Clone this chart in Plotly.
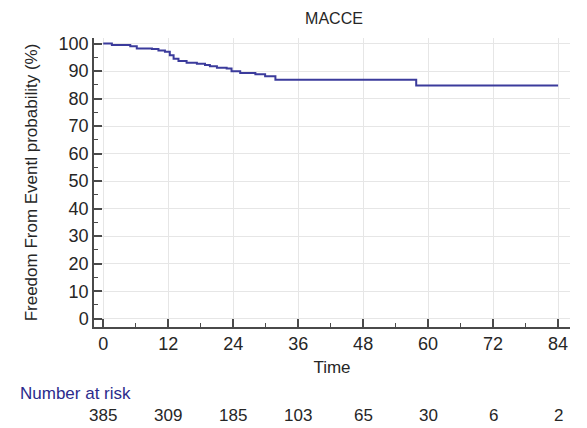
import plotly.graph_objects as go

# Kaplan-Meier step curve (months, % event-free)
times = [0, 1.6, 5.0, 6.2, 9.0, 10.2, 11.4, 12.3, 13.0, 13.9, 15.4, 17.3, 18.8, 19.7, 21.0,
         22.8, 23.7, 25.3, 28.1, 29.9, 31.8, 57.8, 84.0]
survival = [100, 99.5, 99.0, 98.2, 98.0, 97.5, 97.0, 95.7, 94.5, 93.6, 93.0, 92.6, 92.2, 91.7, 91.2,
            90.9, 89.9, 89.3, 88.8, 88.1, 86.8, 84.7, 84.7]

risk_times = [0, 12, 24, 36, 48, 60, 72, 84]
at_risk = [385, 309, 185, 103, 65, 30, 6, 2]

FONT = "Liberation Sans, Arial, sans-serif"
AX = "#4a4a4a"
TXT = "#262626"
PLOT_TOP, PLOT_BOTTOM = 38, 327
PH = PLOT_BOTTOM - PLOT_TOP

fig = go.Figure()
fig.add_trace(go.Scatter(x=times, y=survival, mode="lines", line_shape="hv",
                         line=dict(color="#3b3b9c", width=2), showlegend=False,
                         hoverinfo="skip"))

for t, n in zip(risk_times, at_risk):
    fig.add_annotation(x=t, xref="x", y=(PLOT_BOTTOM - 415) / PH, yref="paper", text=str(n),
                       showarrow=False, xanchor="center", yanchor="middle",
                       font=dict(family=FONT, size=17, color=TXT))

fig.add_annotation(x=(18 - 94) / 476, xref="paper", y=(PLOT_BOTTOM - 393) / PH, yref="paper",
                   text="Number at risk", showarrow=False, xanchor="left", yanchor="middle",
                   font=dict(family=FONT, size=17, color="#2b2b8c"))

fig.update_layout(
    width=587, height=428,
    margin=dict(l=94, r=17, t=PLOT_TOP, b=428 - PLOT_BOTTOM),
    paper_bgcolor="white", plot_bgcolor="white",
    font=dict(family=FONT, size=17, color=TXT),
    title=dict(text="MACCE", x=(334 - 94) / 476, xref="paper", xanchor="center",
               y=1 - 18 / 428, yref="container", yanchor="middle",
               font=dict(family=FONT, size=16, color=TXT)),
    xaxis=dict(range=[-1.7, 86.2], tickvals=risk_times, ticks="inside", ticklen=8,
               tickwidth=1.5, tickcolor=AX, showline=True, linecolor=AX, linewidth=1.5,
               showgrid=True, gridcolor="#e6e6e6", gridwidth=1, zeroline=False,
               minor=dict(tickvals=[6, 18, 30, 42, 54, 66, 78], ticks="inside", ticklen=4,
                          tickcolor=AX, tickwidth=1.2, showgrid=False),
               title=dict(text="Time", standoff=8, font=dict(family=FONT, size=17, color=TXT)),
               tickfont=dict(family=FONT, size=18, color=TXT)),
    yaxis=dict(range=[-3, 102], tickvals=list(range(0, 101, 10)), ticks="inside", ticklen=8,
               tickwidth=1.5, tickcolor=AX, showline=True, linecolor=AX, linewidth=1.5,
               showgrid=True, gridcolor="#e6e6e6", gridwidth=1, zeroline=False,
               minor=dict(tickvals=list(range(5, 100, 10)), ticks="inside", ticklen=4,
                          tickcolor=AX, tickwidth=1.2, showgrid=False),
               title=dict(text="Freedom From Eventl probability (%)", standoff=17,
                          font=dict(family=FONT, size=17, color=TXT)),
               tickfont=dict(family=FONT, size=18, color=TXT)),
)

fig.write_html("out.html")
